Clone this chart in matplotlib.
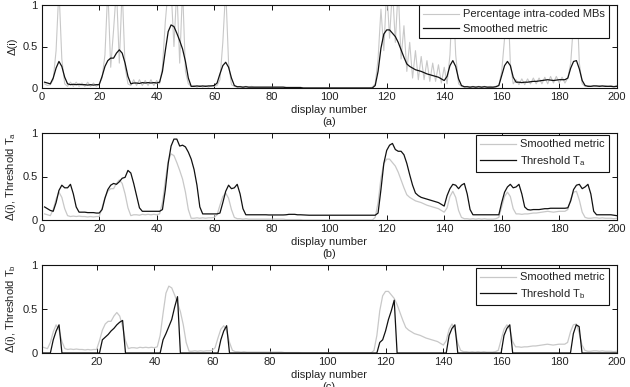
import matplotlib
matplotlib.use("Agg")
import matplotlib.pyplot as plt

# ─── DATA (one value per display number 1..200) ───
frames = list(range(1, 201))

pct_intra = [
    0.05, 0.03, 0.04, 0.10, 0.45, 1.20, 0.35, 0.05, 0.02, 0.07,
    0.02, 0.07, 0.02, 0.06, 0.02, 0.07, 0.02, 0.06, 0.02, 0.05,
    0.12, 0.40, 1.20, 0.25, 0.70, 1.20, 0.30, 1.20, 0.25, 0.05,
    0.03, 0.10, 0.03, 0.10, 0.03, 0.09, 0.03, 0.10, 0.03, 0.09,
    0.05, 0.25, 0.80, 1.20, 1.20, 0.50, 1.20, 0.30, 1.20, 0.20,
    0.05, 0.02, 0.03, 0.01, 0.03, 0.01, 0.03, 0.01, 0.03, 0.02,
    0.03, 0.10, 0.55, 1.20, 0.30, 0.04, 0.02, 0.01, 0.02, 0.01,
    0.02, 0.01, 0.02, 0.01, 0.01, 0.01, 0.01, 0.01, 0.01, 0.01,
    0.01, 0.01, 0.01, 0.01, 0.01, 0.01, 0.01, 0.01, 0.01, 0.01,
    0.00, 0.00, 0.00, 0.00, 0.00, 0.00, 0.00, 0.00, 0.00, 0.00,
    0.00, 0.00, 0.00, 0.00, 0.00, 0.00, 0.00, 0.00, 0.00, 0.00,
    0.00, 0.00, 0.00, 0.00, 0.01, 0.05, 0.35, 0.95, 0.45, 1.20,
    0.60, 1.20, 0.55, 1.20, 0.35, 0.75, 0.20, 0.55, 0.12, 0.45,
    0.10, 0.38, 0.10, 0.33, 0.08, 0.30, 0.08, 0.28, 0.06, 0.25,
    0.05, 0.40, 1.20, 0.40, 0.05, 0.02, 0.01, 0.02, 0.01, 0.02,
    0.01, 0.02, 0.01, 0.02, 0.01, 0.02, 0.01, 0.02, 0.03, 0.20,
    0.60, 1.20, 0.30, 0.05, 0.10, 0.04, 0.11, 0.04, 0.11, 0.05,
    0.12, 0.05, 0.12, 0.05, 0.13, 0.05, 0.14, 0.06, 0.14, 0.06,
    0.13, 0.06, 0.12, 0.30, 0.80, 1.20, 0.30, 0.05, 0.02, 0.03,
    0.02, 0.03, 0.02, 0.03, 0.02, 0.03, 0.02, 0.03, 0.02, 0.03,
]

smoothed = [
    0.07, 0.06, 0.05, 0.12, 0.24, 0.32, 0.26, 0.13, 0.05, 0.04,
    0.045, 0.04, 0.045, 0.04, 0.04, 0.035, 0.04, 0.035, 0.04, 0.04,
    0.14, 0.26, 0.33, 0.36, 0.36, 0.42, 0.46, 0.42, 0.30, 0.14,
    0.05, 0.06, 0.06, 0.055, 0.065, 0.06, 0.065, 0.06, 0.065, 0.06,
    0.07, 0.20, 0.45, 0.68, 0.76, 0.74, 0.66, 0.57, 0.47, 0.32,
    0.12, 0.02, 0.02, 0.025, 0.02, 0.025, 0.02, 0.025, 0.025, 0.03,
    0.06, 0.17, 0.27, 0.31, 0.25, 0.12, 0.03, 0.015, 0.015, 0.01,
    0.015, 0.01, 0.01, 0.01, 0.01, 0.01, 0.01, 0.01, 0.01, 0.01,
    0.01, 0.01, 0.01, 0.01, 0.005, 0.005, 0.005, 0.005, 0.005, 0.005,
    0.0, 0.0, 0.0, 0.0, 0.0, 0.0, 0.0, 0.0, 0.0, 0.0,
    0.0, 0.0, 0.0, 0.0, 0.0, 0.0, 0.0, 0.0, 0.0, 0.0,
    0.0, 0.0, 0.0, 0.0, 0.0, 0.03, 0.20, 0.48, 0.65, 0.70,
    0.70, 0.66, 0.62, 0.55, 0.46, 0.37, 0.29, 0.26, 0.24, 0.22,
    0.21, 0.20, 0.185, 0.17, 0.16, 0.15, 0.14, 0.13, 0.11, 0.09,
    0.14, 0.27, 0.33, 0.26, 0.11, 0.03, 0.015, 0.015, 0.01, 0.015,
    0.01, 0.015, 0.01, 0.015, 0.01, 0.01, 0.01, 0.015, 0.03, 0.15,
    0.27, 0.32, 0.27, 0.13, 0.07, 0.07, 0.065, 0.07, 0.07, 0.075,
    0.08, 0.08, 0.085, 0.09, 0.095, 0.10, 0.095, 0.09, 0.095, 0.10,
    0.10, 0.10, 0.12, 0.24, 0.32, 0.33, 0.23, 0.09, 0.03, 0.02,
    0.02, 0.025, 0.025, 0.02, 0.025, 0.02, 0.02, 0.02, 0.015, 0.02,
]

threshold_a = [
    0.15, 0.13, 0.11, 0.10, 0.20, 0.34, 0.40, 0.37, 0.37, 0.41,
    0.30, 0.15, 0.09, 0.09, 0.09, 0.085, 0.085, 0.085, 0.08, 0.08,
    0.12, 0.25, 0.35, 0.40, 0.42, 0.41, 0.44, 0.48, 0.49, 0.57,
    0.54, 0.42, 0.28, 0.14, 0.10, 0.10, 0.10, 0.10, 0.10, 0.10,
    0.10, 0.12, 0.35, 0.65, 0.85, 0.93, 0.93, 0.85, 0.86, 0.84,
    0.78, 0.70, 0.58, 0.40, 0.15, 0.07, 0.07, 0.07, 0.07, 0.07,
    0.07, 0.08, 0.20, 0.33, 0.40, 0.36, 0.37, 0.41, 0.30, 0.13,
    0.06, 0.06, 0.06, 0.06, 0.06, 0.06, 0.06, 0.06, 0.058, 0.058,
    0.058, 0.058, 0.058, 0.058, 0.06, 0.065, 0.065, 0.065, 0.06, 0.06,
    0.058, 0.055, 0.055, 0.055, 0.055, 0.055, 0.055, 0.055, 0.055, 0.055,
    0.055, 0.055, 0.055, 0.055, 0.055, 0.055, 0.055, 0.055, 0.055, 0.055,
    0.055, 0.055, 0.055, 0.055, 0.055, 0.055, 0.08, 0.35, 0.65, 0.80,
    0.86, 0.88, 0.81, 0.79, 0.79, 0.75, 0.65, 0.52, 0.40, 0.31,
    0.28, 0.26, 0.25, 0.24, 0.23, 0.22, 0.21, 0.20, 0.18, 0.16,
    0.28, 0.36, 0.41, 0.40, 0.36, 0.40, 0.42, 0.30, 0.12, 0.06,
    0.06, 0.06, 0.06, 0.06, 0.06, 0.06, 0.06, 0.06, 0.06, 0.20,
    0.32, 0.38, 0.41, 0.37, 0.38, 0.41, 0.30, 0.15, 0.12, 0.115,
    0.12, 0.12, 0.12, 0.125, 0.13, 0.13, 0.135, 0.135, 0.135, 0.135,
    0.135, 0.135, 0.14, 0.22, 0.35, 0.40, 0.41, 0.36, 0.38, 0.41,
    0.30, 0.10, 0.06, 0.06, 0.06, 0.06, 0.06, 0.06, 0.055, 0.05,
]

threshold_b = [
    0.0, 0.0, 0.0, 0.0, 0.15, 0.25, 0.32, 0.0, 0.0, 0.0,
    0.0, 0.0, 0.0, 0.0, 0.0, 0.0, 0.0, 0.0, 0.0, 0.0,
    0.0, 0.15, 0.18, 0.21, 0.25, 0.28, 0.32, 0.35, 0.37, 0.0,
    0.0, 0.0, 0.0, 0.0, 0.0, 0.0, 0.0, 0.0, 0.0, 0.0,
    0.0, 0.0, 0.15, 0.22, 0.30, 0.38, 0.52, 0.64, 0.0, 0.0,
    0.0, 0.0, 0.0, 0.0, 0.0, 0.0, 0.0, 0.0, 0.0, 0.0,
    0.0, 0.0, 0.15, 0.25, 0.31, 0.0, 0.0, 0.0, 0.0, 0.0,
    0.0, 0.0, 0.0, 0.0, 0.0, 0.0, 0.0, 0.0, 0.0, 0.0,
    0.0, 0.0, 0.0, 0.0, 0.0, 0.0, 0.0, 0.0, 0.0, 0.0,
    0.0, 0.0, 0.0, 0.0, 0.0, 0.0, 0.0, 0.0, 0.0, 0.0,
    0.0, 0.0, 0.0, 0.0, 0.0, 0.0, 0.0, 0.0, 0.0, 0.0,
    0.0, 0.0, 0.0, 0.0, 0.0, 0.0, 0.0, 0.12, 0.15, 0.25,
    0.38, 0.48, 0.60, 0.0, 0.0, 0.0, 0.0, 0.0, 0.0, 0.0,
    0.0, 0.0, 0.0, 0.0, 0.0, 0.0, 0.0, 0.0, 0.0, 0.0,
    0.0, 0.20, 0.28, 0.32, 0.0, 0.0, 0.0, 0.0, 0.0, 0.0,
    0.0, 0.0, 0.0, 0.0, 0.0, 0.0, 0.0, 0.0, 0.0, 0.0,
    0.20, 0.28, 0.32, 0.0, 0.0, 0.0, 0.0, 0.0, 0.0, 0.0,
    0.0, 0.0, 0.0, 0.0, 0.0, 0.0, 0.0, 0.0, 0.0, 0.0,
    0.0, 0.0, 0.0, 0.0, 0.22, 0.32, 0.30, 0.0, 0.0, 0.0,
    0.0, 0.0, 0.0, 0.0, 0.0, 0.0, 0.0, 0.0, 0.0, 0.0,
]

# ─── STYLE ────────────────────────────────────────────────
plt.rcParams["font.family"] = ["Liberation Sans", "DejaVu Sans"]
plt.rcParams["font.size"] = 8
plt.rcParams["mathtext.fontset"] = "custom"
plt.rcParams["mathtext.rm"] = "Liberation Sans"
plt.rcParams["mathtext.it"] = "Liberation Sans:italic"

GREY  = "#c8c8c8"
BLACK = "#111111"
TEXT  = "#222222"

W, H = 630, 387
fig = plt.figure(figsize=(W / 100, H / 100), dpi=100)

# axes boxes in pixels: (left, top, right, bottom)
boxes = [(41.7, 5, 616.7, 88), (41.7, 133, 616.7, 220), (41.7, 265, 616.7, 353)]
axes = []
for l, t, r, b in boxes:
    ax = fig.add_axes([l / W, 1 - b / H, (r - l) / W, (b - t) / H])
    axes.append(ax)


def style(ax, letter, ylabel, xlim, xticks):
    ax.set_xlim(*xlim)
    ax.set_ylim(0, 1)
    ax.set_xticks(xticks)
    ax.set_yticks([0, 0.5, 1])
    ax.set_yticklabels(["0", "0.5", "1"])
    ax.tick_params(direction="in", length=3.5, width=0.7, top=True, right=True,
                   colors=BLACK, labelcolor=TEXT, pad=3)
    for s in ax.spines.values():
        s.set_linewidth(0.8)
        s.set_color(BLACK)
    ax.set_xlabel("display number\n(%s)" % letter, color=TEXT, linespacing=1.2, labelpad=2)
    ax.set_ylabel(ylabel, color=TEXT)
    ax.yaxis.set_label_coords(-0.042, 0.5)


def legend(ax, y_anchor):
    leg = ax.legend(loc="upper right", bbox_to_anchor=(0.9866, y_anchor), borderaxespad=0,
                    fancybox=False, framealpha=1, edgecolor=BLACK, handlelength=3.2,
                    handletextpad=0.35, labelspacing=0.4, borderpad=0.4, fontsize=8)
    leg.get_frame().set_linewidth(0.8)
    for t in leg.get_texts():
        t.set_color(TEXT)


# (a)
ax = axes[0]
ax.plot(frames, pct_intra, color=GREY, lw=0.8, label="Percentage intra-coded MBs")
ax.plot(frames, smoothed, color=BLACK, lw=0.9, label="Smoothed metric")
style(ax, "a", "Δ(i)", (0, 200), range(0, 201, 20))
legend(ax, 1.0)

# (b)
ax = axes[1]
ax.plot(frames, smoothed, color=GREY, lw=0.9, label="Smoothed metric")
ax.plot(frames, threshold_a, color=BLACK, lw=0.9, label=r"Threshold T$_\mathrm{a}$")
style(ax, "b", r"Δ(i), Threshold T$_\mathrm{a}$", (0, 200), range(0, 201, 20))
legend(ax, 0.977)

# (c)
ax = axes[2]
ax.plot(frames, smoothed, color=GREY, lw=0.9, label="Smoothed metric")
ax.plot(frames, threshold_b, color=BLACK, lw=0.9, label=r"Threshold T$_\mathrm{b}$")
style(ax, "c", r"Δ(i), Threshold T$_\mathrm{b}$", (1, 200), range(20, 201, 20))
legend(ax, 0.966)

fig.savefig("out.png", dpi=100)
